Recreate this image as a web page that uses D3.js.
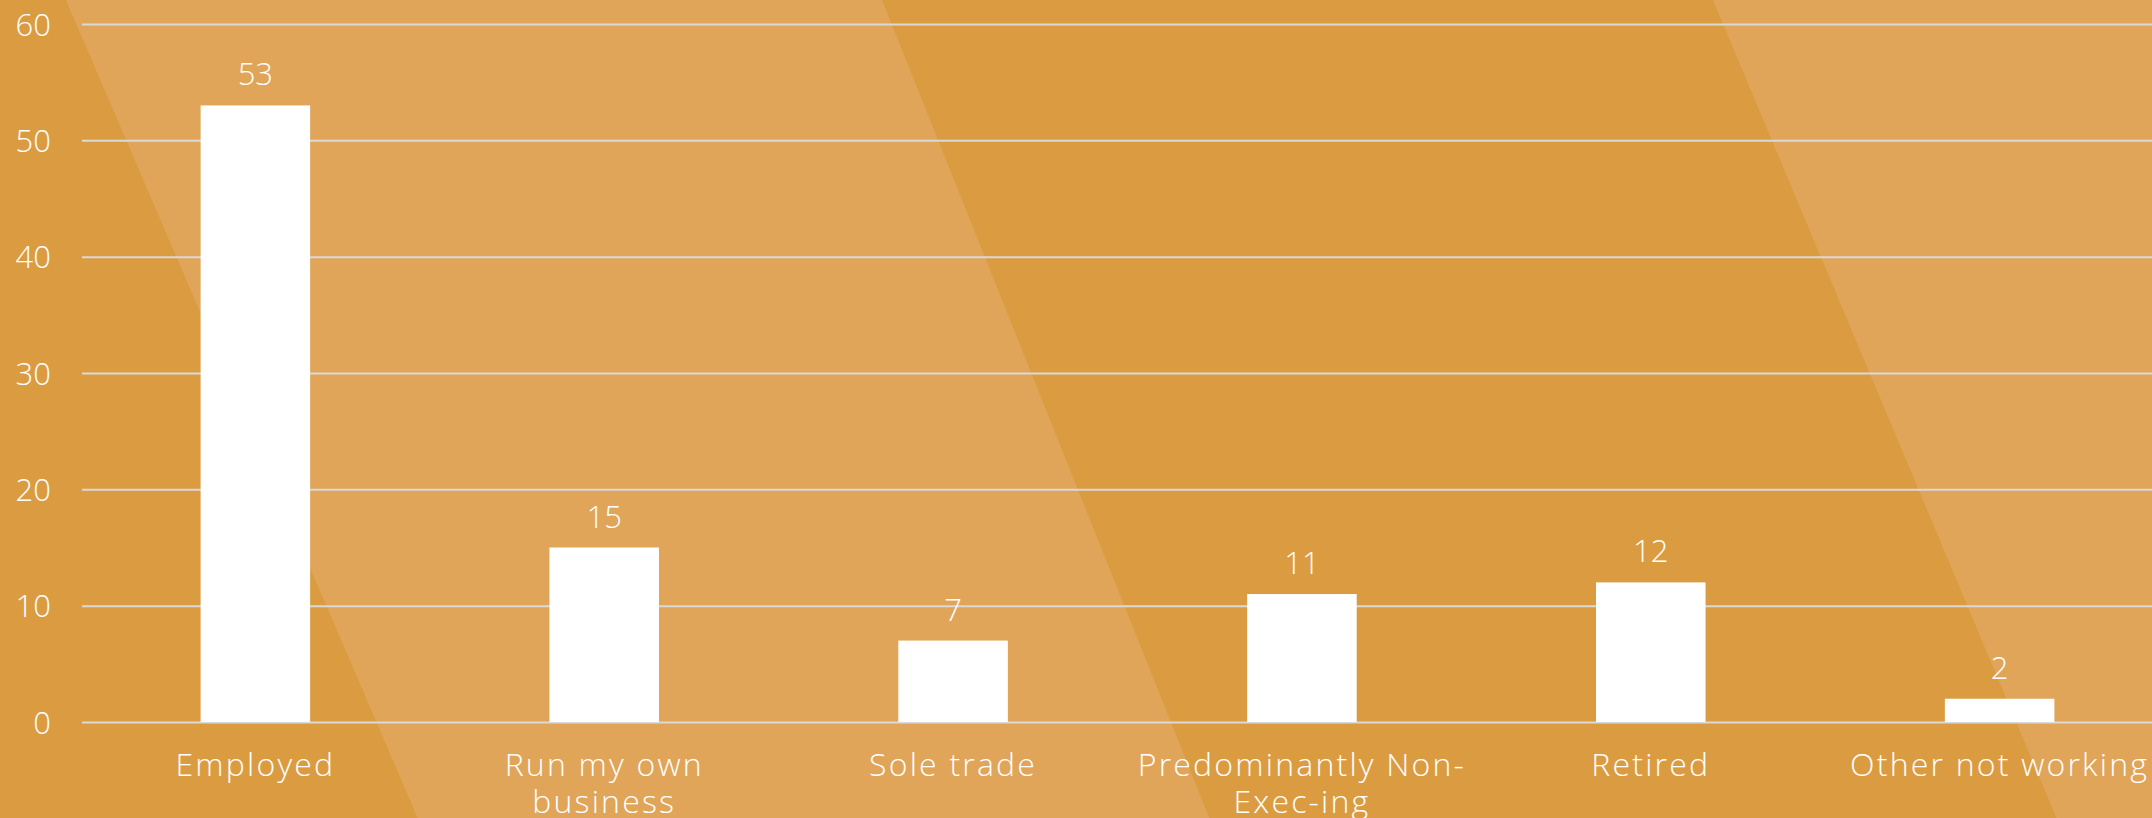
<!DOCTYPE html>
<html>
<head>
<meta charset="utf-8">
<script src="https://cdn.jsdelivr.net/npm/d3@7"></script>
<style>
  html, body { margin: 0; padding: 0; background: #DB9C41; overflow: hidden; }
  svg { display: block; }
  text { font-family: "Open Sans", "Lato", sans-serif; font-weight: 300; fill: #ffffff; }
</style>
</head>
<body>
<svg id="chart"></svg>
<script>
// Survey responses by working status
const categories = ["Employed", "Run my own business", "Sole trade", "Predominantly Non-Exec-ing", "Retired", "Other not working"];
const counts = [53, 15, 7, 11, 12, 2];
const yTicks = [0, 10, 20, 30, 40, 50, 60];

const W = 2152, H = 818;
const margin = { left: 82, top: 24, bottom: 96 };
const svg = d3.select("#chart").attr("width", W).attr("height", H);

// Background with two translucent diagonal stripes
svg.append("rect").attr("width", W).attr("height", H).attr("fill", "#DB9C41");
const stripes = [
  [[66, 0], [882, 0], [882 + 0.4 * H, H], [66 + 0.43 * H, H]],
  [[1713, 0], [W, 0], [W, H], [1713 + 0.42 * H, H]]
];
svg.selectAll("polygon.stripe").data(stripes).join("polygon")
  .attr("class", "stripe")
  .attr("points", d => d.map(p => p.join(",")).join(" "))
  .attr("fill", "#E2A860").attr("opacity", 0.75);

const y = d3.scaleLinear().domain([0, 60]).range([H - margin.bottom, margin.top]);
const x = d3.scaleBand().domain(categories)
  .range([margin.left, 2173])
  .paddingInner(0.686).paddingOuter(0.34);

// Gridlines and y axis labels
const yAxis = d3.axisLeft(y).tickValues(yTicks).tickSize(-(W - margin.left)).tickPadding(31);
const gy = svg.append("g").attr("transform", `translate(${margin.left},0)`).call(yAxis);
gy.select(".domain").remove();
gy.selectAll(".tick line").attr("stroke", "#D9D9D9").attr("stroke-width", 2);
gy.selectAll(".tick text").attr("font-size", 31).attr("fill", "#fff").attr("dy", "0.36em");

// Bars
svg.append("g").selectAll("rect").data(categories).join("rect")
  .attr("x", d => x(d))
  .attr("width", x.bandwidth())
  .attr("y", (d, i) => y(counts[i]))
  .attr("height", (d, i) => y(0) - y(counts[i]))
  .attr("fill", "#ffffff");

// Value labels above bars
svg.append("g").selectAll("text").data(categories).join("text")
  .attr("x", d => x(d) + x.bandwidth() / 2)
  .attr("y", (d, i) => y(counts[i]) - 20)
  .attr("text-anchor", "middle")
  .attr("font-size", 31)
  .text((d, i) => counts[i]);

// Category labels, wrapped at spaces or after hyphens
const xAxis = d3.axisBottom(x).tickSize(0).tickPadding(0);
const gx = svg.append("g").attr("transform", `translate(0,${y(0)})`).call(xAxis);
gx.select(".domain").remove();
const maxW = x.step() * 0.95;
gx.selectAll(".tick text")
  .attr("font-size", 32)
  .attr("fill", "#fff")
  .attr("letter-spacing", 2.2)
  .attr("dy", 0)
  .each(function (label) {
    const t = d3.select(this);
    const words = [];
    label.replace(/([^\s-]+-?)(\s*)/g, (m, w, sp) => { words.push({ w, sp: sp.length > 0 }); return m; });
    t.text(null);
    const lines = [];
    let cur = "";
    const probe = t.append("tspan");
    words.forEach(wd => {
      const trial = cur + wd.w;
      probe.text(trial);
      if (cur && probe.node().getComputedTextLength() > maxW) {
        lines.push(cur.trim());
        cur = wd.w + (wd.sp ? " " : "");
      } else {
        cur = trial + (wd.sp ? " " : "");
      }
    });
    lines.push(cur.trim());
    probe.remove();
    lines.forEach((ln, i) => {
      t.append("tspan").attr("x", 0).attr("y", 54 + i * 37).text(ln);
    });
  });
</script>
</body>
</html>
